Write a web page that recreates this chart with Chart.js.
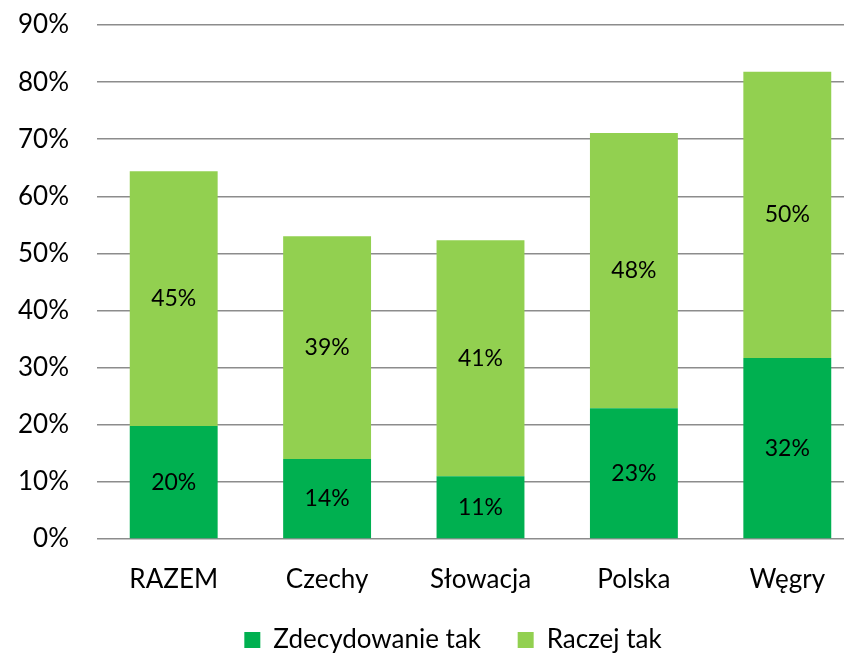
<!DOCTYPE html>
<html>
<head>
<meta charset="utf-8">
<script src="https://cdn.jsdelivr.net/npm/chart.js"></script>
<style>
  html, body { margin: 0; padding: 0; background: #fff; }
  #wrap { width: 844px; height: 653px; overflow: hidden; position: relative; }
  #box { width: 906px; height: 663px; }
</style>
</head>
<body>
<div id="wrap"><div id="box"><canvas id="chart"></canvas></div></div>
<script>
// dane (w %)
const categories = ['RAZEM', 'Czechy', 'Słowacja', 'Polska', 'Węgry'];
const zdecydowanieTak = [19.8, 14.0, 11.0, 22.9, 31.7];
const raczejTak = [44.6, 39.0, 41.3, 48.2, 50.1];
const yTicks = [0, 10, 20, 30, 40, 50, 60, 70, 80, 90];

const FONT = 'Lato, "Open Sans", sans-serif';

// etykiety wartości w środku segmentów
const segmentLabels = {
    id: 'segmentLabels',
    afterDatasetsDraw(chart) {
        const ctx = chart.ctx;
        ctx.save();
        ctx.font = '23px ' + FONT;
        ctx.fillStyle = '#000';
        ctx.textAlign = 'center';
        ctx.textBaseline = 'middle';
        chart.data.datasets.forEach((ds, i) => {
            chart.getDatasetMeta(i).data.forEach((bar, j) => {
                const y = (bar.y + bar.base) / 2;
                ctx.fillText(Math.round(ds.data[j]) + '%', bar.x, y);
            });
        });
        ctx.restore();
    }
};

new Chart(document.getElementById('chart'), {
    type: 'bar',
    data: {
        labels: categories,
        datasets: [
            { label: 'Zdecydowanie tak', data: zdecydowanieTak, backgroundColor: '#00B050', borderWidth: 0 },
            { label: 'Raczej tak', data: raczejTak, backgroundColor: '#92D050', borderWidth: 0 }
        ]
    },
    options: {
        responsive: true,
        maintainAspectRatio: false,
        animation: false,
        layout: { padding: { top: 25, left: 0, right: 0, bottom: 0 } },
        datasets: { bar: { barPercentage: 0.573, categoryPercentage: 1 } },
        scales: {
            x: {
                stacked: true,
                grid: { display: false },
                border: { display: false },
                ticks: { color: '#000', font: { family: FONT, size: 26 }, padding: 17 },
                afterFit: s => { s.height = 78; }
            },
            y: {
                stacked: true,
                min: 0,
                max: 90,
                afterBuildTicks: s => { s.ticks = yTicks.map(v => ({ value: v })); },
                grid: { color: '#8c8c8c', lineWidth: 1.5, drawTicks: false },
                border: { display: false },
                ticks: { color: '#000', font: { family: FONT, size: 26 }, padding: 28, callback: v => v + '%' },
                afterFit: s => { s.width = 97; s.paddingTop = 0; s.paddingBottom = 0; }
            },
            yRight: {
                position: 'right',
                grid: { display: false },
                border: { display: false },
                ticks: { display: false },
                afterFit: s => { s.width = 42; s.paddingTop = 0; s.paddingBottom = 0; }
            }
        },
        plugins: {
            legend: {
                position: 'bottom',
                labels: {
                    color: '#000',
                    font: { family: FONT, size: 26 },
                    boxWidth: 16,
                    boxHeight: 16,
                    padding: 10,
                    // odstęp między pozycjami legendy
                    generateLabels: chart => {
                        const items = Chart.defaults.plugins.legend.labels.generateLabels(chart);
                        items[0].text += '    ';
                        return items;
                    }
                }
            },
            tooltip: { enabled: false }
        }
    },
    plugins: [segmentLabels]
});
</script>
</body>
</html>
